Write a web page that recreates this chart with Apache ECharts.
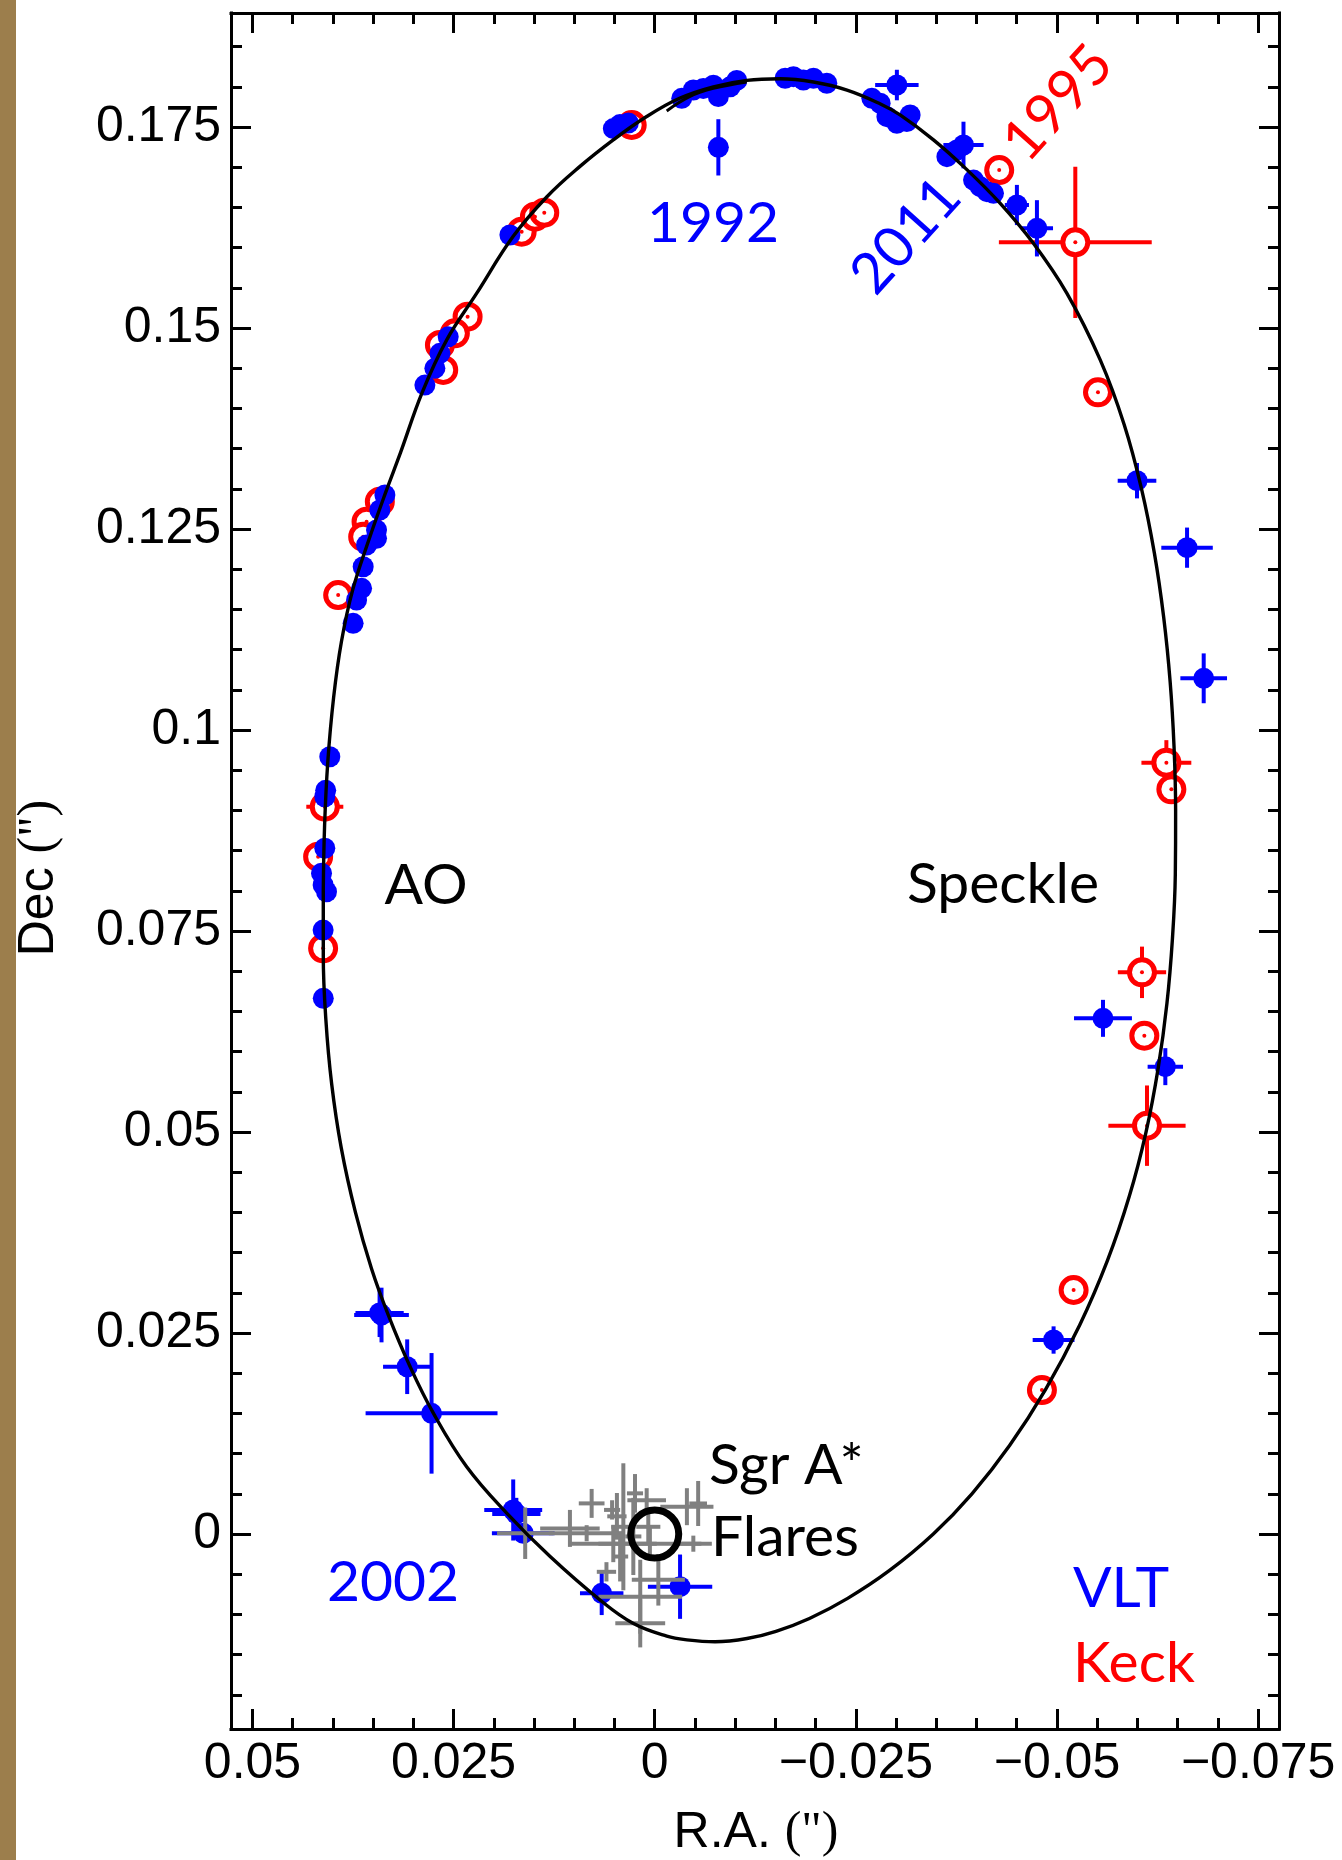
<!DOCTYPE html>
<html>
<head>
<meta charset="utf-8">
<title>S0-2 orbit around Sgr A*</title>
<script src="https://cdn.jsdelivr.net/npm/echarts@6/dist/echarts.min.js"></script>
<style>
  html, body { margin: 0; padding: 0; background: #ffffff; }
  #chart { width: 1342px; height: 1860px; }
</style>
</head>
<body>
<div id="chart"></div>
<script>
// ---- Data (arcseconds) -------------------------------------------------

// Best-fit orbit, traced as a closed loop of [R.A., Dec] points
const orbit = [
  [0.0412, 0.0800], [0.04104, 0.0880], [0.04064, 0.0960], [0.03992, 0.1040],
  [0.03894, 0.1110], [0.03755, 0.1174], [0.03555, 0.1236], [0.0335, 0.1294],
  [0.0316, 0.1345], [0.0289, 0.1420], [0.02587, 0.1485], [0.02214, 0.1543],
  [0.01759, 0.1614], [0.01343, 0.1663], [0.00929, 0.1701], [0.00515, 0.1734],
  [0.0010, 0.1763], [-0.00315, 0.1786], [-0.00729, 0.1800], [-0.01144, 0.1808],
  [-0.01558, 0.1810], [-0.01973, 0.1806], [-0.0239, 0.1796], [-0.0280, 0.1779],
  [-0.0305, 0.1765], [-0.03465, 0.1734], [-0.0388, 0.1697], [-0.04295, 0.1655],
  [-0.04709, 0.1605], [-0.05124, 0.1543], [-0.05539, 0.1460], [-0.05835, 0.1380],
  [-0.06051, 0.1300], [-0.06211, 0.1220], [-0.06327, 0.1140], [-0.06407, 0.1060],
  [-0.06455, 0.0980], [-0.06475, 0.0900], [-0.06471, 0.0820], [-0.06435, 0.0740],
  [-0.06367, 0.0660], [-0.06259, 0.0580], [-0.06107, 0.0500], [-0.05899, 0.0420],
  [-0.05627, 0.0340], [-0.05283, 0.0260], [-0.04859, 0.0180], [-0.04411, 0.0110],
  [-0.03943, 0.0050], [-0.03463, 0.0000], [-0.02923, -0.0045], [-0.02398, -0.0080],
  [-0.01923, -0.0105], [-0.01507, -0.0121], [-0.01147, -0.0130], [-0.0075, -0.0134],
  [-0.0040, -0.01316], [-0.0015, -0.0127], [0.0027, -0.0111], [0.0068, -0.0082],
  [0.0130, -0.0028], [0.0184, 0.0026], [0.0234, 0.0084], [0.0275, 0.0150],
  [0.0304, 0.0208], [0.0331, 0.0272], [0.0352, 0.0330], [0.0372, 0.0400],
  [0.03896, 0.0480], [0.04016, 0.0560], [0.04088, 0.0640], [0.0412, 0.0720],
  [0.0412, 0.0800]
];

// Second fit that separates briefly from the first near apoapse
const orbitAlt = [
  [-0.00149, 0.1770], [-0.00439, 0.1788], [-0.00729, 0.1798], [-0.01144, 0.1806]
];

// VLT astrometry: [R.A., Dec, R.A. error, Dec error]
const vlt = [
  [0.02857, 0.1429, 0, 0], [0.02733, 0.14498, 0, 0], [0.0267, 0.14685, 0, 0],
  [0.02567, 0.1489, 0, 0], [0.0180, 0.16157, 0, 0], [0.00514, 0.1748, 0, 0],
  [0.00432, 0.1753, 0, 0], [0.00328, 0.1755, 0, 0], [-0.00336, 0.17857, 0, 0],
  [-0.0048, 0.1796, 0, 0], [-0.00604, 0.1798, 0, 0], [-0.00729, 0.1802, 0, 0],
  [-0.00791, 0.1788, 0, 0], [-0.00937, 0.1800, 0, 0], [-0.0102, 0.1808, 0, 0],
  [-0.01621, 0.18106, 0, 0], [-0.01724, 0.18126, 0, 0], [-0.01848, 0.18085, 0, 0],
  [-0.01973, 0.18106, 0, 0], [-0.02139, 0.18044, 0, 0], [-0.02699, 0.17857, 0, 0],
  [-0.02802, 0.17795, 0, 0], [-0.02886, 0.17629, 0, 0], [-0.0301, 0.17547, 0, 0],
  [-0.03134, 0.17567, 0, 0], [-0.03175, 0.1765, 0, 0], [-0.03632, 0.17131, 0, 0],
  [-0.03756, 0.17214, 0, 0], [-0.03963, 0.1684, 0, 0], [-0.04046, 0.16758, 0, 0],
  [-0.0413, 0.16696, 0, 0], [-0.04211, 0.16675, 0, 0],
  [-0.0301, 0.18022, 0.0027, 0.0019], [-0.03838, 0.17276, 0.0025, 0.0029],
  [-0.04502, 0.1653, 0.0015, 0.0025], [-0.04751, 0.1624, 0.002, 0.0035],
  [-0.00791, 0.17247, 0.0011, 0.0035],
  [-0.05995, 0.13101, 0.0024, 0.0022], [-0.06617, 0.12268, 0.0032, 0.0025],
  [-0.06824, 0.10643, 0.0029, 0.0031], [-0.05572, 0.06414, 0.0036, 0.0023],
  [-0.06347, 0.05813, 0.0022, 0.0023], [-0.04958, 0.02413, 0.0026, 0.0017],
  [0.03396, 0.02724, 0.0034, 0.0034], [0.0342, 0.0275, 0.0030, 0.0030],
  [0.03077, 0.02081, 0.0030, 0.0034], [0.02774, 0.01501, 0.0082, 0.0075],
  [0.01759, 0.00299, 0.0036, 0.0038], [0.0172, 0.0025, 0.0030, 0.0020],
  [0.01634, 0.0001, 0.0039, 0], [0.00659, -0.00738, 0.0027, 0.0027],
  [-0.00315, -0.00655, 0.0040, 0.0040],
  [0.03354, 0.12923, 0, 0], [0.03417, 0.12736, 0, 0], [0.03458, 0.12488, 0, 0],
  [0.03458, 0.12384, 0, 0], [0.03582, 0.12301, 0, 0], [0.03624, 0.12031, 0, 0],
  [0.03644, 0.11762, 0, 0], [0.03706, 0.11617, 0, 0], [0.03749, 0.11327, 0, 0],
  [0.04039, 0.09668, 0, 0], [0.04101, 0.0917, 0, 0], [0.0409, 0.0925, 0, 0],
  [0.04101, 0.08529, 0, 0], [0.04142, 0.08218, 0, 0], [0.04122, 0.08072, 0, 0],
  [0.0408, 0.07989, 0, 0], [0.04122, 0.07512, 0, 0], [0.0412, 0.06663, 0, 0]
];

// Keck astrometry: [R.A., Dec, R.A. error, Dec error]
const keck = [
  [0.00286, 0.17525, 0, 0], [0.01654, 0.16198, 0, 0], [0.01489, 0.16385, 0, 0],
  [0.01373, 0.16434, 0, 0], [0.02326, 0.15141, 0, 0], [0.02484, 0.14934, 0, 0],
  [0.0267, 0.14789, 0, 0], [0.02629, 0.14478, 0, 0], [0.03417, 0.1284, 0, 0],
  [0.03582, 0.12591, 0, 0], [0.03624, 0.12404, 0, 0], [0.03935, 0.11679, 0, 0],
  [0.04101, 0.09046, 0.0023, 0], [0.04184, 0.08424, 0, 0], [0.04122, 0.07285, 0, 0],
  [-0.04282, 0.16965, 0, 0], [-0.05228, 0.16066, 0.0095, 0.0094],
  [-0.0551, 0.1420, 0, 0], [-0.0636, 0.09594, 0.0031, 0.0028],
  [-0.06422, 0.09262, 0, 0], [-0.06057, 0.06986, 0.0030, 0.0032],
  [-0.06086, 0.06198, 0, 0], [-0.06119, 0.05079, 0.0048, 0.0050],
  [-0.05207, 0.03035, 0, 0], [-0.04813, 0.01791, 0, 0]
];

// Sgr A* infrared flare positions: [R.A., Dec, R.A. error, Dec error]
const flares = [
  [0.00784, 0.00381, 0.0016, 0.0018], [0.0039, 0.0009, 0.0015, 0.0079],
  [0.00245, 0.00506, 0.0010, 0.0024], [0.0010, 0.0042, 0.0024, 0.0015],
  [-0.0040, 0.0034, 0.0033, 0.0023], [-0.0054, 0.0038, 0.0011, 0.0028],
  [0.01054, 0.0007, 0.0037, 0.0023], [0.00846, 0.0001, 0.0047, 0.0010],
  [0.00515, -0.0012, 0.0054, 0.0023], [0.0006, -0.0012, 0.0064, 0.0020],
  [0.00266, -0.0003, 0.0010, 0.0048], [0.0060, -0.0047, 0.0012, 0.0012],
  [-0.00045, -0.0057, 0.0033, 0.0032], [0.0018, -0.0078, 0.0052, 0.0046],
  [0.0018, -0.0111, 0.0031, 0.0030], [0.0047, 0.0022, 0.0012, 0.0029],
  [0.0008, 0.0009, 0.0015, 0.0020], [0.0043, -0.0028, 0.0010, 0.0031],
  [0.0161, 0.0001, 0.0035, 0.0032], [-0.0048, -0.0012, 0.0023, 0.0010],
  [0.0053, 0.0030, 0.0010, 0.0012]
];

// Position of the black hole
const sgrA = [[0, 0]];

// Axis ticks and labels
const xMajor = [0.05, 0.025, 0, -0.025, -0.05, -0.075];
const xTickLabels = ['0.05', '0.025', '0', '\u22120.025', '\u22120.05', '\u22120.075'];
const xMinor = [0.045, 0.04, 0.035, 0.03, 0.02, 0.015, 0.01, 0.005,
  -0.005, -0.01, -0.015, -0.02, -0.03, -0.035, -0.04, -0.045,
  -0.055, -0.06, -0.065, -0.07];
const yMajor = [0, 0.025, 0.05, 0.075, 0.1, 0.125, 0.15, 0.175];
const yTickLabels = ['0', '0.025', '0.05', '0.075', '0.1', '0.125', '0.15', '0.175'];
const yMinor = [-0.02, -0.015, -0.01, -0.005, 0.005, 0.01, 0.015, 0.02,
  0.03, 0.035, 0.04, 0.045, 0.055, 0.06, 0.065, 0.07, 0.08, 0.085, 0.09, 0.095,
  0.105, 0.11, 0.115, 0.12, 0.13, 0.135, 0.14, 0.145, 0.155, 0.16, 0.165, 0.17,
  0.18, 0.185];

// ---- Chart ------------------------------------------------------------

const X_RANGE = [-0.0776, 0.05267];
const Y_RANGE = [-0.02425, 0.18918];
const BLUE = '#0000ff';
const RED = '#ff0000';
const GREY = '#808080';
const LABEL_FONT = 'Liberation Sans, Arial, sans-serif';
const NOTE_FONT = 'Lato, "Open Sans", sans-serif';

function tickFormatter(values, labels) {
  return function (v) {
    const i = values.findIndex(t => Math.abs(t - v) < 1e-9);
    return i >= 0 ? labels[i] : '';
  };
}

function frameAxis(dim, position, ticks, tickLength, showLine, labels) {
  const ax = {
    type: 'value',
    gridIndex: 0,
    position: position,
    min: dim === 'x' ? X_RANGE[0] : Y_RANGE[0],
    max: dim === 'x' ? X_RANGE[1] : Y_RANGE[1],
    inverse: dim === 'x',
    axisLine: { show: showLine, onZero: false, lineStyle: { color: '#000', width: 3, cap: 'square' } },
    axisTick: { show: true, inside: true, length: tickLength, customValues: ticks,
                lineStyle: { color: '#000', width: 3 } },
    axisLabel: { show: false },
    splitLine: { show: false },
    minorTick: { show: false },
    axisPointer: { show: false }
  };
  if (labels) {
    ax.axisLabel = {
      show: true,
      customValues: ticks,
      formatter: labels,
      margin: 10,
      color: '#000',
      fontSize: 50,
      fontFamily: LABEL_FONT
    };
  }
  return ax;
}

function errorBars(name, data, color, z) {
  return {
    type: 'custom',
    name: name,
    xAxisIndex: 0,
    yAxisIndex: 0,
    z: z,
    silent: true,
    data: data,
    encode: { x: 0, y: 1 },
    renderItem: function (params, api) {
      const x = api.value(0), y = api.value(1);
      const ex = api.value(2), ey = api.value(3);
      const children = [];
      const style = { stroke: color, lineWidth: 4, fill: null };
      if (ex > 0) {
        const a = api.coord([x - ex, y]), b = api.coord([x + ex, y]);
        children.push({ type: 'line', shape: { x1: a[0], y1: a[1], x2: b[0], y2: b[1] }, style: style });
      }
      if (ey > 0) {
        const a = api.coord([x, y - ey]), b = api.coord([x, y + ey]);
        children.push({ type: 'line', shape: { x1: a[0], y1: a[1], x2: b[0], y2: b[1] }, style: style });
      }
      return { type: 'group', children: children };
    }
  };
}

function note(text, x, y, color, align, rotationDeg) {
  return {
    type: 'text',
    x: x,
    y: y,
    rotation: (rotationDeg || 0) * Math.PI / 180,
    z: 50,
    style: {
      text: text,
      fill: color,
      fontSize: 57,
      fontFamily: NOTE_FONT,
      align: align, textAlign: align,
      verticalAlign: 'middle', textVerticalAlign: 'middle'
    }
  };
}

const chart = echarts.init(document.getElementById('chart'), null, { renderer: 'canvas', width: 1342, height: 1860 });

chart.setOption({
  animation: false,
  backgroundColor: '#ffffff',
  grid: { left: 231, top: 13, width: 1048, height: 1716, containLabel: false, show: false },
  xAxis: [
    frameAxis('x', 'bottom', xMajor, 20, true, tickFormatter(xMajor, xTickLabels)),
    frameAxis('x', 'bottom', xMinor, 11, false, null),
    frameAxis('x', 'top', xMajor, 20, true, null),
    frameAxis('x', 'top', xMinor, 11, false, null)
  ],
  yAxis: [
    frameAxis('y', 'left', yMajor, 20, true, tickFormatter(yMajor, yTickLabels)),
    frameAxis('y', 'left', yMinor, 11, false, null),
    frameAxis('y', 'right', yMajor, 20, true, null),
    frameAxis('y', 'right', yMinor, 11, false, null)
  ],
  series: [
    errorBars('Keck errors', keck, RED, 2),
    {
      type: 'scatter', name: 'Keck', xAxisIndex: 0, yAxisIndex: 0, z: 3, silent: true,
      data: keck.map(d => [d[0], d[1]]),
      symbol: 'circle', symbolSize: 25,
      itemStyle: { color: '#ffffff', borderColor: RED, borderWidth: 5, opacity: 1 }
    },
    {
      type: 'scatter', name: 'Keck centre', xAxisIndex: 0, yAxisIndex: 0, z: 4, silent: true,
      data: keck.map(d => [d[0], d[1]]),
      symbol: 'circle', symbolSize: 4,
      itemStyle: { color: RED, opacity: 1 }
    },
    errorBars('VLT errors', vlt, BLUE, 5),
    {
      type: 'scatter', name: 'VLT', xAxisIndex: 0, yAxisIndex: 0, z: 6, silent: true,
      data: vlt.map(d => [d[0], d[1]]),
      symbol: 'circle', symbolSize: 21,
      itemStyle: { color: BLUE, opacity: 1 }
    },
    errorBars('Flares', flares, GREY, 7),
    {
      type: 'line', name: 'Orbit', xAxisIndex: 0, yAxisIndex: 0, z: 8, silent: true,
      data: orbit, smooth: 0.4, showSymbol: false, symbol: 'none',
      lineStyle: { color: '#000', width: 3.4 }
    },
    {
      type: 'line', name: 'Orbit (alt)', xAxisIndex: 0, yAxisIndex: 0, z: 8, silent: true,
      data: orbitAlt, smooth: 0.4, showSymbol: false, symbol: 'none',
      lineStyle: { color: '#000', width: 3 }
    },
    {
      type: 'scatter', name: 'Sgr A*', xAxisIndex: 0, yAxisIndex: 0, z: 9, silent: true,
      data: sgrA, symbol: 'circle', symbolSize: 48,
      itemStyle: { color: 'rgba(255,255,255,0)', borderColor: '#000', borderWidth: 7, opacity: 1 }
    }
  ],
  graphic: [
    { type: 'rect', shape: { x: 0, y: 0, width: 16, height: 1860 }, style: { fill: '#9c7e4c' }, z: 1 },
    note('1992', 713, 224, BLUE, 'center', 0),
    note('2011', 906, 236, BLUE, 'center', 48),
    note('1995', 1058, 103, RED, 'center', 48),
    note('AO', 426, 886, '#000', 'center', 0),
    note('Speckle', 1003, 885, '#000', 'center', 0),
    note('Sgr A*', 709, 1466, '#000', 'left', 0),
    note('Flares', 711, 1538, '#000', 'left', 0),
    note('2002', 393, 1583, BLUE, 'center', 0),
    note('VLT', 1073, 1589, BLUE, 'left', 0),
    note('Keck', 1073, 1664, RED, 'left', 0),
    {
      type: 'text', x: 756, y: 1833, z: 50,
      style: {
        text: '{a|R.A. }{b|(")}',
        fill: '#000',
        align: 'center', textAlign: 'center',
        verticalAlign: 'middle', textVerticalAlign: 'middle',
        rich: {
          a: { fontSize: 50, fontFamily: LABEL_FONT, fill: '#000' },
          b: { fontSize: 50, fontFamily: 'Liberation Serif, serif', fill: '#000' }
        }
      }
    },
    {
      type: 'text', x: 39, y: 878, rotation: Math.PI / 2, z: 50,
      style: {
        text: '{a|Dec }{b|(")}',
        fill: '#000',
        align: 'center', textAlign: 'center',
        verticalAlign: 'middle', textVerticalAlign: 'middle',
        rich: {
          a: { fontSize: 50, fontFamily: LABEL_FONT, fill: '#000' },
          b: { fontSize: 50, fontFamily: 'Liberation Serif, serif', fill: '#000' }
        }
      }
    }
  ]
});
</script>
</body>
</html>
